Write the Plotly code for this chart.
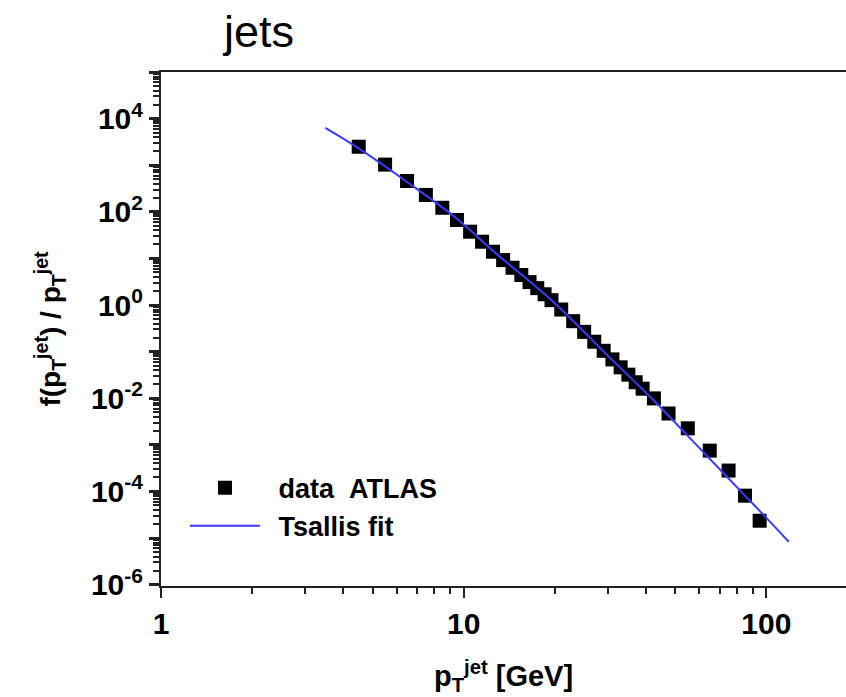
import plotly.graph_objects as go

# ATLAS jet data
pt_data = [4.5, 5.5, 6.5, 7.5, 8.5, 9.5, 10.5, 11.5, 12.5, 13.5, 14.5, 15.5, 16.5,
           17.5, 18.5, 19.5, 21, 23, 25, 27, 29, 31, 33, 35, 37, 39,
           42.5, 47.5, 55, 65, 75, 85, 95]
f_data = [2490, 1030, 458, 230, 122, 66.7, 37.4, 22.8, 13.9, 9.2, 6.3, 4.4, 3.1,
          2.3, 1.7, 1.27, 0.80, 0.45, 0.265, 0.163, 0.104, 0.068, 0.046, 0.032, 0.022, 0.016,
          0.0099, 0.0047, 0.00226, 0.00075, 0.00028, 8.1e-5, 2.35e-5]

# Tsallis fit curve
pt_fit = [3.49, 4.5, 6.5, 9.5, 12.5, 19.6, 30, 42.5, 55, 70, 85, 100, 118.5]
f_fit = [6300, 2290, 437, 71, 14.5, 1.23, 0.081, 0.0089, 0.00155, 0.000302, 8.1e-5, 2.7e-5, 8.3e-6]

y_major = [10.0 ** k for k in range(-6, 6)]
y_major_text = ["10<sup>%d</sup>" % k if k % 2 == 0 and k < 5 else "" for k in range(-6, 6)]
y_minor = [m * 10.0 ** k for k in range(-6, 5) for m in range(2, 10)]
x_major = [1, 10, 100]
x_major_text = ["1", "10", "100"]
x_minor = [m * 10.0 ** k for k in range(0, 3) for m in range(2, 10)]

W, H = 846, 697
L, T, B, R = 161, 72, 111, 0
FONT = "Liberation Sans, Arial, sans-serif"

fig = go.Figure()
fig.add_trace(go.Scatter(
    x=pt_data, y=f_data, mode="markers", name="\u2002data\u00a0\u00a0ATLAS",
    marker=dict(symbol="square", size=14, color="black", line=dict(width=0)),
))
fig.add_trace(go.Scatter(
    x=pt_fit, y=f_fit, mode="lines", name="\u2002Tsallis fit",
    line=dict(color="#3b3bff", width=2, shape="spline"),
))

tick_font = dict(family=FONT, size=30, color="black", weight="bold")

fig.update_layout(
    width=W, height=H,
    margin=dict(l=L, r=R, t=T, b=B, pad=0),
    paper_bgcolor="white", plot_bgcolor="white",
    showlegend=True,
    legend=dict(
        x=0.035, y=0.238, xanchor="left", yanchor="top",
        bgcolor="rgba(0,0,0,0)",
        font=dict(family=FONT, size=27, color="black", weight="bold"),
        itemwidth=70, tracegroupgap=0,
    ),
    xaxis=dict(
        type="log", range=[0, 2.263],
        showgrid=False, zeroline=False,
        showline=True, linecolor="#222", linewidth=2, mirror=True,
        ticks="outside", ticklen=10, tickwidth=2, tickcolor="#222",
        tickvals=x_major, ticktext=x_major_text,
        tickfont=tick_font,
        minor=dict(tickvals=x_minor, ticks="outside", ticklen=6, tickwidth=1.5, tickcolor="#222"),
        title=dict(text="p<sub>T</sub><sup>jet</sup> [GeV]", standoff=27,
                   font=dict(family=FONT, size=29, color="black", weight="bold")),
    ),
    yaxis=dict(
        type="log", range=[-6.03, 5],
        showgrid=False, zeroline=False,
        showline=True, linecolor="#222", linewidth=2,
        ticks="outside", ticklen=10, tickwidth=2.5, tickcolor="#222",
        tickvals=y_major, ticktext=y_major_text,
        tickfont=tick_font,
        minor=dict(tickvals=y_minor, ticks="outside", ticklen=6, tickwidth=1.5, tickcolor="#222"),
        title=dict(text="f(p<sub>T</sub><sup>jet</sup>) / p<sub>T</sub><sup>jet</sup>", standoff=22,
                   font=dict(family=FONT, size=28, color="black", weight="bold")),
    ),
    annotations=[dict(
        text="jets", xref="paper", yref="paper", x=(220 - L) / (W - L - R), y=(H - B - 31) / (H - B - T),
        xanchor="left", yanchor="middle", showarrow=False,
        font=dict(family=FONT, size=45, color="black"),
    )],
)

fig.write_html("out.html")
